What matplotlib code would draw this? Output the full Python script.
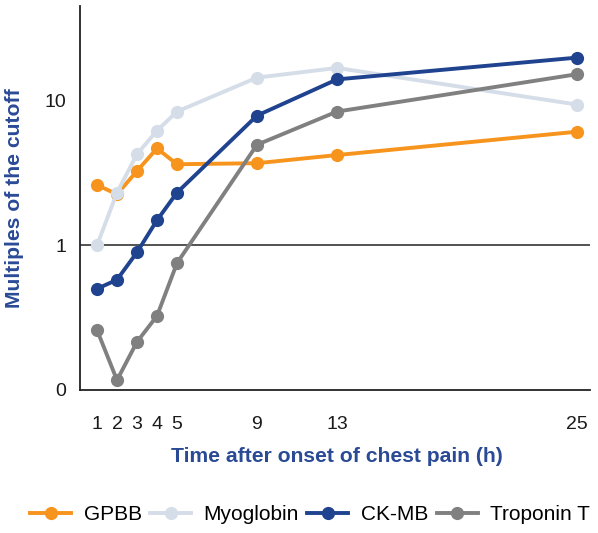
import matplotlib
matplotlib.use("Agg")
import matplotlib.pyplot as plt
from matplotlib.lines import Line2D

plt.rcParams['font.family'] = ['Liberation Sans', 'DejaVu Sans']

hours = [1, 2, 3, 4, 5, 9, 13, 25]
gpbb = [2.61, 2.25, 3.26, 4.67, 3.63, 3.69, 4.20, 6.09]
myoglobin = [1.0, 2.31, 4.26, 6.19, 8.39, 14.4, 16.8, 9.38]
ckmb = [0.50, 0.578, 0.894, 1.49, 2.31, 7.87, 14.0, 19.8]
troponin = [0.26, 0.117, 0.215, 0.325, 0.753, 4.95, 8.39, 15.2]

series_names = ["GPBB", "Myoglobin", "CK-MB", "Troponin T"]
series_values = [gpbb, myoglobin, ckmb, troponin]
colors = ["#F7941D", "#D5DDE8", "#1F438F", "#808080"]

y_ticks = [0.1, 1, 10]
y_tick_labels = ["0", "1", "10"]
x_ticks = hours
x_tick_labels = [str(h) for h in hours]

LW = 2.8
MS = 9.5

fig = plt.figure(figsize=(5.98, 5.33), dpi=100)
ax = fig.add_axes([80/598, 1-390/533, 510/598, 384/533])

for name, vals, c in zip(series_names, series_values, colors):
    ax.plot(hours, vals, color=c, lw=LW, marker='o', markersize=MS,
            markeredgewidth=0, label=name, solid_capstyle='butt', zorder=3)

ax.set_yscale('log')
ax.set_ylim(0.1, 45)
ax.set_xlim(0.15, 25.65)
ax.axhline(1, color='#444444', lw=1.3, zorder=2)

ax.set_yticks(y_ticks)
ax.set_yticklabels(y_tick_labels)
ax.yaxis.set_minor_locator(matplotlib.ticker.NullLocator())
ax.set_xticks(x_ticks)
ax.set_xticklabels(x_tick_labels)
ax.tick_params(axis='both', length=0, labelsize=14, labelcolor='#1a1a1a')
ax.tick_params(axis='x', pad=19)
ax.tick_params(axis='y', pad=10)

for s in ['top', 'right']:
    ax.spines[s].set_visible(False)
for s in ['left', 'bottom']:
    ax.spines[s].set_color('#222222')
    ax.spines[s].set_linewidth(1.3)

label_color = '#2A4A96'
fig.text(337/598, 1-457/533, "Time after onset of chest pain (h)", ha='center', va='center',
         fontsize=15.2, fontweight='bold', color=label_color)
fig.text(15/598, 1-198/533, "Multiples of the cutoff", ha='center', va='center',
         rotation=90, fontsize=15.2, fontweight='bold', color=label_color)

handles = [Line2D([], [], color=c, lw=LW, marker='o', markersize=MS, markeredgewidth=0)
           for c in colors]
fig.legend(handles, series_names, loc='center', bbox_to_anchor=(310/598, 1-515/533),
           ncol=4, frameon=False, fontsize=15, handlelength=1.97, handletextpad=0.6,
           columnspacing=0.4, borderaxespad=0, borderpad=0)

fig.savefig("out.png", dpi=100)
